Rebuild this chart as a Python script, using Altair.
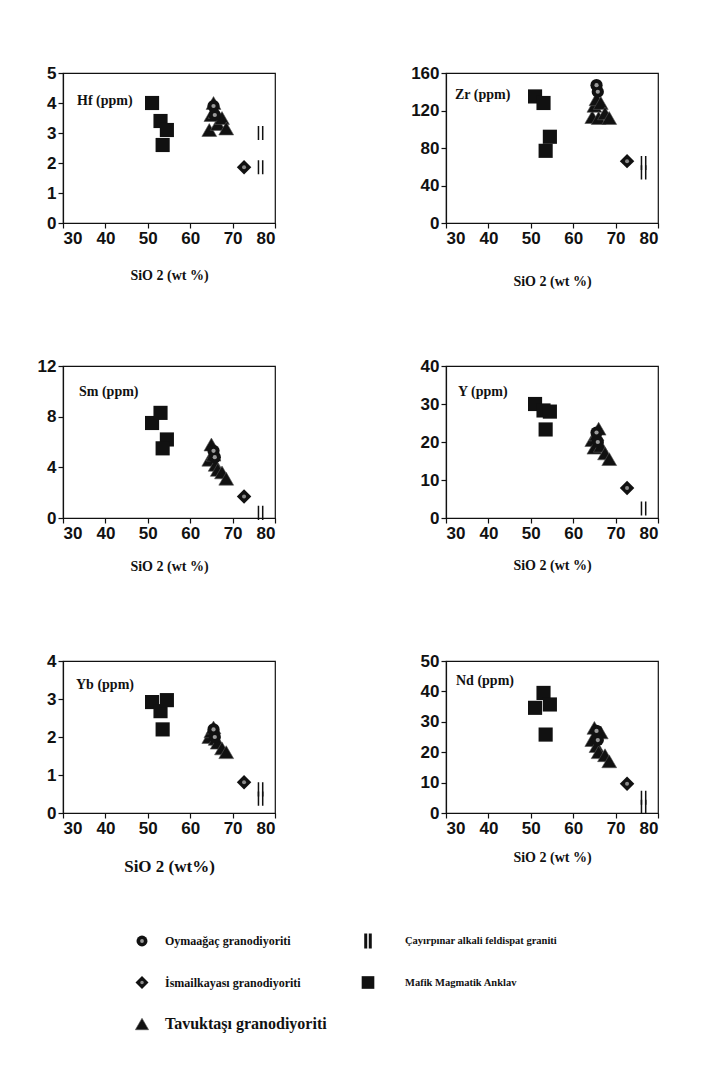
import altair as alt
import pandas as pd

INK = "#111111"

PANELS = ["Hf", "Zr", "Sm", "Y", "Yb", "Nd"]
LABELS = ["Hf (ppm)", "Zr (ppm)", "Sm (ppm)", "Y (ppm)", "Yb (ppm)", "Nd (ppm)"]
Y_MAX = [5, 160, 12, 40, 4, 50]
Y_STEP = [1, 40, 4, 10, 1, 10]
X_TICKS = [30, 40, 50, 60, 70, 80]
X_TITLES = ["SiO 2 (wt %)", "SiO 2 (wt %)", "SiO 2 (wt %)", "SiO 2 (wt %)", "SiO 2 (wt%)", "SiO 2 (wt %)"]

GROUPS = ["Oymaağaç granodiyoriti", "İsmailkayası granodiyoriti", "Tavuktaşı granodiyoriti",
          "Çayırpınar alkali feldispat graniti", "Mafik Magmatik Anklav"]

# Mafik Magmatik Anklav (squares)
maf_sio2 = [51.0, 53.0, 54.5, 53.5]
maf_vals = {
    "Hf": [4.0, 3.4, 3.1, 2.6],
    "Zr": [135, 128, 92, 77],
    "Sm": [7.5, 8.3, 6.2, 5.5],
    "Y": [30.0, 28.3, 28.0, 23.3],
    "Yb": [2.92, 2.68, 2.97, 2.2],
    "Nd": [34.6, 39.5, 35.7, 25.8],
}
# Tavuktaşı granodiyoriti (triangles)
tav_sio2 = [64.5, 65.0, 65.5, 66.0, 66.5, 67.5, 68.5]
tav_vals = {
    "Hf": [3.1, 3.6, 4.0, 3.7, 3.3, 3.5, 3.15],
    "Zr": [113, 125, 132, 112, 128, 117, 112],
    "Sm": [4.6, 5.8, 5.0, 4.2, 3.8, 3.6, 3.1],
    "Y": [20.5, 18.5, 22.0, 23.5, 19.0, 17.0, 15.5],
    "Yb": [2.0, 2.15, 2.25, 1.95, 1.85, 1.7, 1.6],
    "Nd": [24.0, 28.0, 22.0, 20.0, 26.5, 19.0, 17.0],
}
# Oymaağaç granodiyoriti (circles)
oym_sio2 = [65.5, 65.8]
oym_vals = {
    "Hf": [3.9, 3.6],
    "Zr": [147, 140],
    "Sm": [5.3, 4.8],
    "Y": [22.5, 20.0],
    "Yb": [2.2, 2.0],
    "Nd": [27.0, 24.0],
}
# İsmailkayası granodiyoriti (diamond)
ism_sio2 = [72.7]
ism_vals = {"Hf": [1.86], "Zr": [66], "Sm": [1.7], "Y": [7.9], "Yb": [0.81], "Nd": [9.6]}
# Çayırpınar alkali feldispat graniti (double bar)
cay_sio2 = 76.6
cay_vals = {"Hf": [3.0, 1.86], "Zr": [54, 64], "Sm": [0.4], "Y": [2.5], "Yb": [0.38, 0.62], "Nd": [2.0, 5.0]}

rows = []
for p in PANELS:
    for s, v in zip(maf_sio2, maf_vals[p]):
        rows.append({"panel": p, "group": GROUPS[4], "sio2": s, "value": v})
    for s, v in zip(tav_sio2, tav_vals[p]):
        rows.append({"panel": p, "group": GROUPS[2], "sio2": s, "value": v})
    for s, v in zip(oym_sio2, oym_vals[p]):
        rows.append({"panel": p, "group": GROUPS[0], "sio2": s, "value": v})
    for s, v in zip(ism_sio2, ism_vals[p]):
        rows.append({"panel": p, "group": GROUPS[1], "sio2": s, "value": v})
    for v in cay_vals[p]:
        rows.append({"panel": p, "group": GROUPS[3], "sio2": cay_sio2, "value": v})
points = pd.DataFrame(rows)

BARS = "M-0.3,-1L-0.3,1M0.3,-1L0.3,1"


def marker_layers(base, x, y, legend=False):
    def f(g):
        return base.transform_filter(alt.datum.group == g)
    k = 0.8 if legend else 1.0
    L = [
        f(GROUPS[4]).mark_point(shape="square", filled=True, color=INK, opacity=1, size=200 * k).encode(x=x, y=y),
        f(GROUPS[2]).mark_point(shape="triangle-up", filled=True, color=INK, opacity=1, size=220 * k,
                                stroke="#555555", strokeWidth=0.6).encode(x=x, y=y),
        f(GROUPS[0]).mark_point(shape="circle", filled=True, color=INK, opacity=1, size=150 * k).encode(x=x, y=y),
        f(GROUPS[0]).mark_point(shape="circle", filled=True, color="#9a9a9a", opacity=1, size=18 * k).encode(x=x, y=y),
        f(GROUPS[1]).mark_point(shape="diamond", filled=True, color=INK, opacity=1, size=210 * k).encode(x=x, y=y),
        f(GROUPS[1]).mark_point(shape="circle", filled=True, color="#8a8a8a", opacity=1, size=16 * k).encode(x=x, y=y),
        f(GROUPS[3]).mark_point(shape=BARS, filled=False, color=INK, opacity=1,
                                strokeWidth=(3.0 if legend else 1.5), size=(230 if legend else 200)).encode(x=x, y=y),
    ]
    return L


def panel(i, w, h, title_pad, title_size, lab_x, lab_y):
    key = PANELS[i]
    ymax, step = Y_MAX[i], Y_STEP[i]
    base = alt.Chart(points).transform_filter(alt.datum.panel == key)
    x = alt.X("sio2:Q", scale=alt.Scale(domain=[30, 80], nice=False, zero=False),
              axis=alt.Axis(values=X_TICKS, title=X_TITLES[i], titlePadding=title_pad,
                            titleFontSize=title_size))
    y = alt.Y("value:Q", scale=alt.Scale(domain=[0, ymax], nice=False),
              axis=alt.Axis(values=list(range(0, ymax + 1, step)), title=None))
    layers = marker_layers(base, x, y)
    label = alt.Chart(pd.DataFrame({"t": [LABELS[i]]})).mark_text(
        align="left", baseline="middle", font="Liberation Serif", fontWeight="bold",
        fontSize=14, color=INK).encode(x=alt.value(lab_x), y=alt.value(lab_y), text="t:N")
    return alt.layer(*layers, label).properties(width=w, height=h)


W = 212
p_hf = panel(0, W, 150, 22, 14, 14, 28)
p_zr = panel(1, W, 150, 28, 14, 9, 22)
p_sm = panel(2, W, 152, 18, 14, 16, 26)
p_y = panel(3, W, 152, 17, 14, 12, 26)
p_yb = panel(4, W, 152, 22, 17, 13, 24)
p_nd = panel(5, W, 152, 14, 14, 10, 20)

panels = alt.concat(p_hf, p_zr, p_sm, p_y, p_yb, p_nd, columns=2,
                    spacing={"row": 143, "column": 171}, bounds="flush")

# legend
leg = pd.DataFrame({"group": GROUPS, "col": [0, 0, 0, 1, 1], "row": [0, 1, 2, 0, 1]})
lbase = alt.Chart(leg)
lx = alt.X("col:Q", scale=alt.Scale(domain=[0, 1], range=[79, 305]), axis=None)
ly = alt.Y("row:Q", scale=alt.Scale(domain=[0, 2], range=[27, 110]), axis=None)
leg_layers = marker_layers(lbase, lx, ly, legend=True)
t1 = lbase.transform_filter((alt.datum.col == 0) & (alt.datum.row < 2)).mark_text(
    align="left", baseline="middle", dx=23, font="Liberation Serif", fontWeight="bold",
    fontSize=12, color=INK).encode(x=lx, y=ly, text="group:N")
t2 = lbase.transform_filter((alt.datum.col == 0) & (alt.datum.row == 2)).mark_text(
    align="left", baseline="middle", dx=23, font="Liberation Serif", fontWeight="bold",
    fontSize=16, color=INK).encode(x=lx, y=ly, text="group:N")
t3 = lbase.transform_filter(alt.datum.col == 1).mark_text(
    align="left", baseline="middle", dx=37, font="Liberation Serif", fontWeight="bold",
    fontSize=10.5, color=INK).encode(x=lx, y=ly, text="group:N")
legend = alt.layer(*leg_layers, t1, t2, t3).properties(
    width=600, height=120, view=alt.ViewBackground(stroke="transparent"))

chart = alt.vconcat(panels, legend, spacing=38).properties(
    padding={"left": 28, "top": 55, "right": 5, "bottom": 5},
    background="white",
).configure_view(
    stroke=INK, strokeWidth=1.2
).configure_axis(
    domainColor=INK, tickColor=INK, labelColor=INK, titleColor=INK,
    domainWidth=1.2, tickWidth=1.2, tickSize=5, grid=False,
    labelFont="Liberation Sans", labelFontWeight="bold", labelFontSize=17, labelPadding=2,
    titleFont="Liberation Serif", titleFontWeight="bold",
)

chart.save("out.html", embed_options={"renderer": "svg", "actions": False})
